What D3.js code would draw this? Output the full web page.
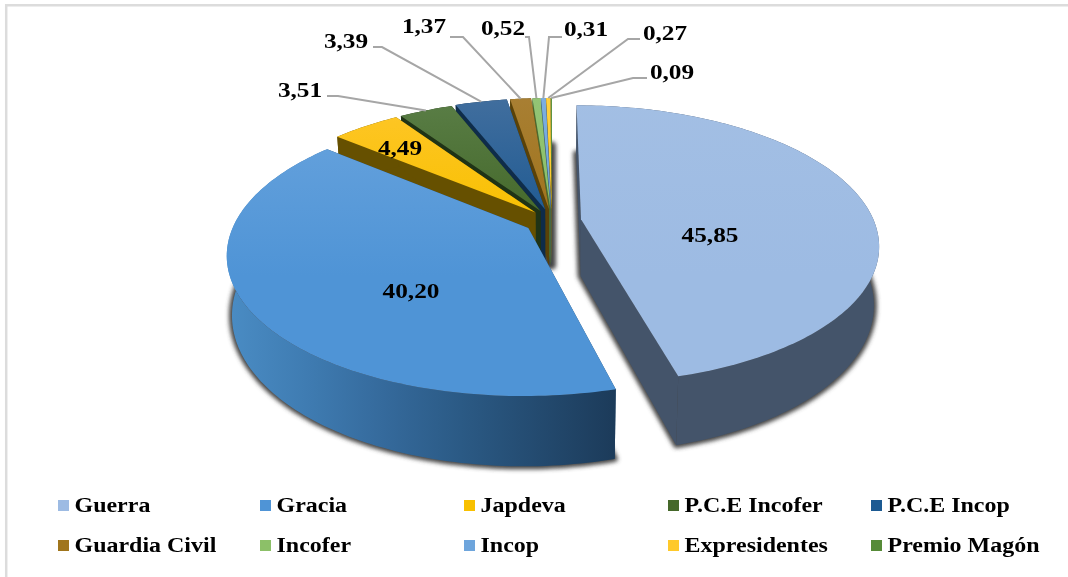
<!DOCTYPE html>
<html>
<head>
<meta charset="utf-8">
<script src="https://cdn.jsdelivr.net/npm/d3@7"></script>
<style>
html, body { margin: 0; padding: 0; background: #fff; }
text { font-family: "Liberation Serif", serif; font-weight: bold; fill: #000; }
</style>
</head>
<body>
<div id="vis"></div>
<script>
var categories = ["Guerra", "Gracia", "Japdeva", "P.C.E Incofer", "P.C.E Incop", "Guardia Civil", "Incofer", "Incop", "Expresidentes", "Premio Magón"];
var values = [45.85, 40.20, 4.49, 3.51, 3.39, 1.37, 0.52, 0.31, 0.27, 0.09];

var topColors = ["#9dbbe3", "#4f94d6", "#f8c000", "#44682a", "#1f5a92", "#a0741c", "#8cc068", "#6ea5dc", "#ffc92a", "#568b38"];
var backColors = ["#a3bfe4", "#6ba5de", "#ffc72e", "#5c8049", "#44709f", "#a98035", "#93c476", "#7dafe0", "#ffd040", "#649a46"];
var wallColors = ["#44546a", "#1f4466", "#665000", "#1f3316", "#0e2c4a", "#5a4208", "#4a6a30", "#3a5a80", "#806000", "#2c4a1c"];

// how far each slice is pulled out of the pie
var explode = [0.1, 0.095, 0.085, 0.085, 0.09, 0.09, 0.09, 0.09, 0.09, 0.09];

var width = 1068;
var height = 577;

var cx = 552, cy = 221;
var rx = 293, ry = 135;
var tilt = 0.18;
var depth = 57;
var shrink = 0.016;

var svg = d3.select("#vis")
    .append("svg")
    .attr("width", width)
    .attr("height", height);

var defs = svg.append("defs");

var blur = defs.append("filter")
    .attr("id", "blur")
    .attr("x", "-20%").attr("y", "-20%")
    .attr("width", "140%").attr("height", "140%");
blur.append("feGaussianBlur").attr("stdDeviation", 2.2);

// the text in the picture is a little soft
var soft = defs.append("filter").attr("id", "soft");
soft.append("feGaussianBlur").attr("stdDeviation", 0.35);

// frame, only the top and left sides show
svg.append("path")
    .attr("d", "M6.2," + height + "V5.3H" + width)
    .attr("fill", "none")
    .attr("stroke", "#dcdcdc")
    .attr("stroke-width", 2.5);

var xscale = d3.scaleLinear().domain([-1, 1]).range([cx - rx, cx + rx]);
var yscale = d3.scaleLinear().domain([-1, 1]).range([cy - ry, cy + ry]);

function project(u, v, z) {
    var s = 1 / (1 - tilt * v);
    return [cx + (xscale(u * s) - cx) * (1 - shrink * z), yscale(v * s) + depth * z * s];
}

var arcs = d3.pie().sort(null).value(function (d) { return d; })(values);

var line = d3.line();

arcs.forEach(function (a, i) {
    a.mid = (a.startAngle + a.endAngle) / 2;
    a.ou = Math.sin(a.mid) * explode[i];
    a.ov = -Math.cos(a.mid) * explode[i];
    a.index = i;
});

// point of slice a at radius r and angle t, z = 0 top face, z = 1 bottom face
function pt(a, r, t, z) {
    return project(a.ou + r * Math.sin(t), a.ov - r * Math.cos(t), z);
}

function arcPoints(a, z) {
    var n = Math.max(2, Math.ceil((a.endAngle - a.startAngle) / 0.02));
    return d3.range(n + 1).map(function (k) {
        return pt(a, 1, a.startAngle + (a.endAngle - a.startAngle) * k / n, z);
    });
}

function facePath(a, z) {
    return line([pt(a, 0, 0, z)].concat(arcPoints(a, z))) + "Z";
}

function radialWall(a, t) {
    return line([pt(a, 0, 0, 0), pt(a, 1, t, 0), pt(a, 1, t, 1), pt(a, 0, 0, 1)]) + "Z";
}

function outerWall(a) {
    return line(arcPoints(a, 0).concat(arcPoints(a, 1).reverse())) + "Z";
}

// gradients for the top faces, lighter at the back
arcs.forEach(function (a, i) {
    var g = defs.append("linearGradient")
        .attr("id", "top" + i)
        .attr("gradientUnits", "userSpaceOnUse")
        .attr("x1", 0).attr("x2", 0)
        .attr("y1", cy - ry).attr("y2", cy + (i < 2 ? ry : 0));
    g.append("stop").attr("offset", "0%").attr("stop-color", backColors[i]);
    g.append("stop").attr("offset", i < 2 ? "70%" : "100%").attr("stop-color", topColors[i]);
});

// gradient along the big outer wall
var wallGrad = defs.append("linearGradient")
    .attr("id", "wallGracia")
    .attr("gradientUnits", "userSpaceOnUse")
    .attr("x1", 228).attr("x2", 615)
    .attr("y1", 0).attr("y2", 0);
wallGrad.append("stop").attr("offset", "0%").attr("stop-color", "#4a8cc4");
wallGrad.append("stop").attr("offset", "20%").attr("stop-color", "#3f7cb2");
wallGrad.append("stop").attr("offset", "40%").attr("stop-color", "#356a9c");
wallGrad.append("stop").attr("offset", "60%").attr("stop-color", "#2b5a85");
wallGrad.append("stop").attr("offset", "100%").attr("stop-color", "#1c3b5a");

// back slices are drawn first
var order = arcs.slice().sort(function (p, q) { return q.index - p.index; });
order = order.filter(function (a) { return a.index > 1; }).concat([arcs[1], arcs[0]]);

var shadows = svg.append("g").attr("filter", "url(#blur)");
shadows.selectAll("path")
    .data(order)
    .enter()
    .append("path")
    .attr("d", function (a) { return facePath(a, 1); })
    .attr("fill", "#444")
    .attr("stroke", "#444")
    .attr("stroke-width", function (a) { return a.index > 1 ? 8 : 6; })
    .attr("stroke-linejoin", "round");

var slices = svg.selectAll(".slice")
    .data(order)
    .enter()
    .append("g")
    .attr("class", "slice");

slices.append("path")
    .attr("d", function (a) { return radialWall(a, a.startAngle); })
    .attr("fill", function (a) { return wallColors[a.index]; });

slices.append("path")
    .attr("d", function (a) { return radialWall(a, a.endAngle); })
    .attr("fill", function (a) { return wallColors[a.index]; });

slices.append("path")
    .attr("d", outerWall)
    .attr("fill", function (a) { return a.index === 1 ? "url(#wallGracia)" : wallColors[a.index]; });

slices.append("path")
    .attr("d", function (a) { return facePath(a, 0); })
    .attr("fill", function (a) { return "url(#top" + a.index + ")"; });

// data labels
var insideLabels = [[710, 242], [411, 298], [400, 155]];
var outsideLabels = [
    { x: 300, y: 97, knee: [338, 96], start: [327, 96] },
    { x: 346, y: 48, knee: [382, 47], start: [373, 47] },
    { x: 424, y: 33, knee: [463, 37], start: [450, 37] },
    { x: 503, y: 35, knee: [529, 37], start: [525, 37] },
    { x: 586, y: 36, knee: [549, 37], start: [562, 37] },
    { x: 665, y: 40, knee: [628, 39], start: [640, 39] },
    { x: 672, y: 79, knee: [633, 78], start: [647, 78] }
];

var labelFormat = function (v) { return d3.format(".2f")(v).replace(".", ","); };

svg.selectAll(".leader")
    .data(outsideLabels)
    .enter()
    .append("path")
    .attr("class", "leader")
    .attr("d", function (d, i) {
        var a = arcs[i + 3];
        return line([d.start, d.knee, pt(a, 1, a.mid, 0)]);
    })
    .attr("fill", "none")
    .attr("stroke", "#a6a6a6")
    .attr("stroke-width", 2);

svg.append("g")
    .attr("filter", "url(#soft)")
    .selectAll(".label")
    .data(values)
    .enter()
    .append("text")
    .attr("class", "label")
    .attr("text-anchor", "middle")
    .attr("font-size", 22)
    .attr("transform", function (d, i) {
        var x = i < 3 ? insideLabels[i][0] : outsideLabels[i - 3].x;
        var y = i < 3 ? insideLabels[i][1] : outsideLabels[i - 3].y;
        return "translate(" + x + "," + y + ") scale(1.15,1)";
    })
    .text(labelFormat);

// legend
var legendX = [58, 260, 464, 668, 871];
var legendY = [506, 546];

var legend = svg.append("g")
    .attr("filter", "url(#soft)")
    .selectAll(".legend")
    .data(categories)
    .enter()
    .append("g")
    .attr("class", "legend")
    .attr("transform", function (d, i) {
        return "translate(" + legendX[i % 5] + "," + legendY[Math.floor(i / 5)] + ")";
    });

legend.append("rect")
    .attr("x", 0).attr("y", -6)
    .attr("width", 11).attr("height", 11)
    .attr("fill", function (d, i) { return topColors[i]; });

legend.append("text")
    .attr("transform", "translate(16.5,6) scale(1.09,1)")
    .attr("font-size", 22)
    .text(function (d) { return d; });
</script>
</body>
</html>
